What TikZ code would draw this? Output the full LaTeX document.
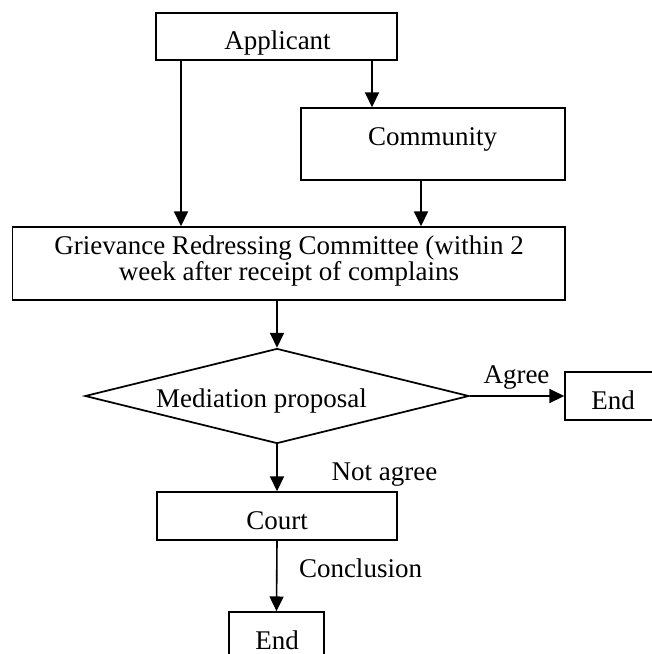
\documentclass[tikz,border=0pt]{standalone}
\usepackage{fontspec}
\setmainfont{Liberation Serif}
\usetikzlibrary{shapes.geometric,arrows.meta}
\begin{document}
\begin{tikzpicture}[x=0.75pt,y=-0.75pt,
  box/.style={draw,line width=1.3pt,inner sep=0pt,rectangle},
  dia/.style={draw,line width=1.3pt,inner sep=0pt,shape=diamond,minimum width=288pt,minimum height=71.25pt},
  txt/.style={inner sep=0pt,anchor=base,font=\fontsize{20.25pt}{19.5pt}\selectfont},
  arr/.style={line width=1.2pt,-{Triangle[length=11pt,width=10.5pt]}}]
\fill[white] (0,0) rectangle (652,654);
\useasboundingbox (0,0) rectangle (652,654);
% boxes
\node[box,minimum width=180.75pt,minimum height=35.25pt] (app) at (276.5,36.5) {};
\node[box,minimum width=198pt,minimum height=54pt] (com) at (433,144) {};
\node[box,minimum width=414.4pt,minimum height=54.75pt] (grc) at (288.75,263.5) {};
\node[dia] (med) at (277,396) {};
\node[box,minimum width=72pt,minimum height=36pt] (endr) at (613,396) {};
\node[box,minimum width=180pt,minimum height=36pt] (court) at (277,516) {};
\node[box,minimum width=71.25pt,minimum height=36pt] (endb) at (276.5,636) {};
% texts
\node[txt] (tapp) at (277.5,49) {Applicant};
\node[txt] (tcom) at (432.6,145) {Community};
\node[txt,align=center,anchor=north] (tgrc) at (289,235) {Grievance Redressing Committee (within 2\\week after receipt of complains};
\node[txt] (tmed) at (261.5,407) {Mediation proposal};
\node[txt] (tagree) at (516.5,383) {Agree};
\node[txt] (tendr) at (613,409) {End};
\node[txt] (tnot) at (384.5,480) {Not agree};
\node[txt] (tcourt) at (277,529) {Court};
\node[txt] (tconc) at (360.5,577) {Conclusion};
\node[txt] (tendb) at (277,649) {End};
% connectors
\draw[arr] (app.south -| 181,0) -- (grc.north -| 181,0);
\draw[arr] (app.south -| 372,0) -- (com.north -| 372,0);
\draw[arr] (com.south -| 421,0) -- (grc.north -| 421,0);
\draw[arr] (grc.south -| med.north) -- (med.north);
\draw[arr] (med.east) -- (endr.west);
\draw[arr] (med.south) -- (court.north);
\draw[arr] (court.south) -- (endb.north);
\end{tikzpicture}
\end{document}
